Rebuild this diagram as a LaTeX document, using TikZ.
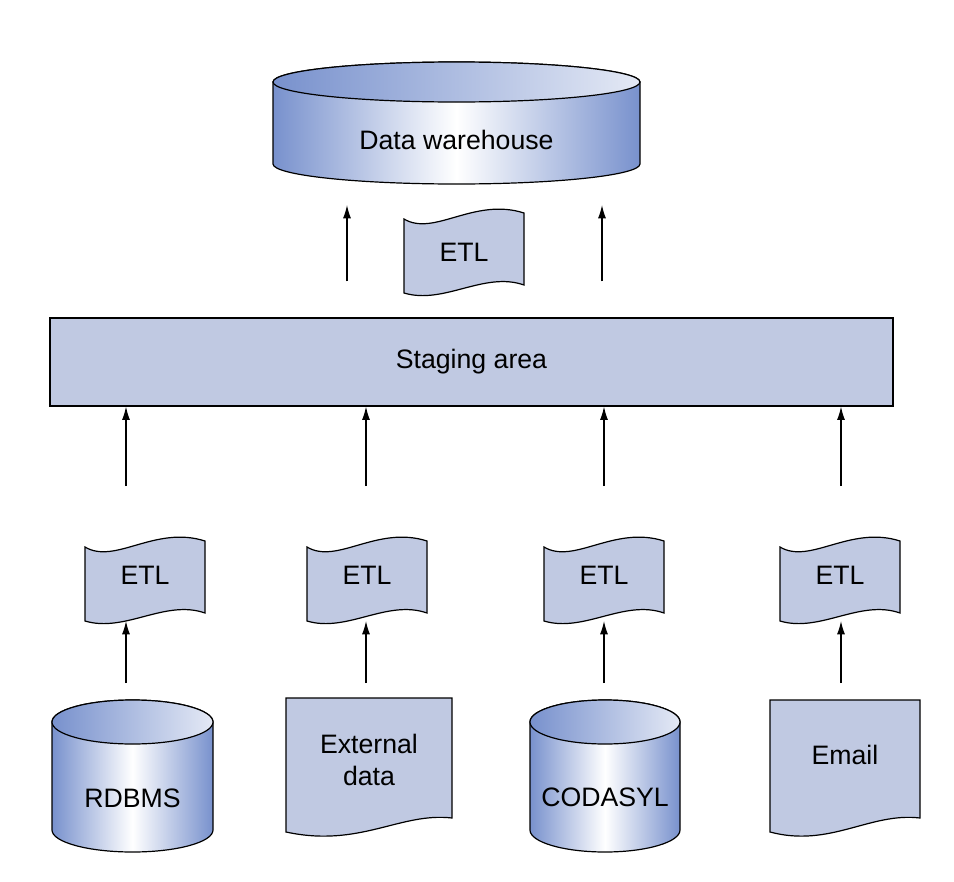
\documentclass[tikz,border=0pt]{standalone}
\usepackage{fontspec}
\setmainfont{Liberation Sans}
\usetikzlibrary{arrows.meta}
\begin{document}
\begin{tikzpicture}[x=0.75pt,y=-0.75pt,
  fillc/.style={fill=boxc,draw=black,line width=0.9pt},
  arr/.style={-{Latex[length=10pt,width=6pt]},line width=0.9pt},
  lbl/.style={font=\fontsize{20}{24}\selectfont,align=center},
  cyl/.style={left color=cylb,right color=cylb,middle color=white,draw=black,line width=0.9pt}]
\definecolor{boxc}{RGB}{192,201,226}
\definecolor{cylb}{RGB}{120,145,205}
\useasboundingbox (0,0) rectangle (954,882);
\tikzset{
 etl/.pic={
  \path[fillc] (-60,-30) .. controls (-30,-12) and (10,-52) .. (60,-36) -- (60,36) .. controls (20,22) and (-20,56) .. (-60,44) -- cycle;
 },
 cylinder/.pic={
  \path[cyl] (-\cw,-\ch) -- (-\cw,\ch) arc[start angle=180,end angle=0,x radius=\cw,y radius=\cry] -- (\cw,-\ch) arc[start angle=0,end angle=-180,x radius=\cw,y radius=\cry] -- cycle;
  \path[left color=cylb,right color=white!80!cylb,draw=black,line width=0.9pt] (0,-\ch) ellipse[x radius=\cw,y radius=\cry];
 }
}
% Data warehouse
\def\cw{183.5}\def\ch{41}\def\cry{20}
\pic at (456.5,123) {cylinder};
\node[lbl] (dw) at (456.5,140) {Data warehouse};
\coordinate (dwb1) at (347,205);
\coordinate (dwb2) at (602,205);
% top ETL
\pic at (464,249) {etl};
\node[lbl] (etl0) at (464,252) {ETL};
% Staging
\node[fillc,lbl,minimum width=843*0.75pt,minimum height=88*0.75pt] (st) at (471.5,362) {Staging area};
\draw[arr] (st.north -| dwb1) ++(0,-36) -- (dwb1);
\draw[arr] (st.north -| dwb2) ++(0,-36) -- (dwb2);
% lower row
\foreach \x/\n in {145/1,367/2,604/3,840/4}{
  \pic at (\x,577) {etl};
  \node[lbl] (etl\n) at (\x,575) {ETL};
}
\foreach \x/\n in {126/1,366/2,604/3,841/4}{
  \coordinate (a\n) at (\x,486);
  \coordinate (b\n) at (\x,683);
  \draw[arr] (a\n) -- (st.south -| a\n);
  \draw[arr] (b\n) -- ++(0,-62);
}
% sources
\def\cw{80.5}\def\ch{54}\def\cry{22}
\pic at (132.5,776) {cylinder};
\node[lbl] (rdbms) at (132.5,798) {RDBMS};
\def\cw{75}
\pic at (605,776) {cylinder};
\node[lbl] (coda) at (605,797) {CODASYL};
\path[fillc] (286,698) -- (452,698) -- (452,818) .. controls (400,812) and (360,848) .. (286,832) -- cycle;
\node[lbl] (ext) at (369,760) {External\\data};
\path[fillc] (770,700) -- (920,700) -- (920,818) .. controls (870,812) and (830,848) .. (770,832) -- cycle;
\node[lbl] (email) at (845,755) {Email};
\end{tikzpicture}
\end{document}
